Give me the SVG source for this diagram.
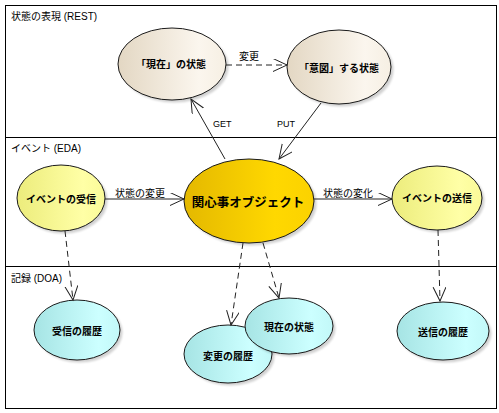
<svg xmlns="http://www.w3.org/2000/svg" width="499" height="413" viewBox="0 0 499 413">
<style>
.frame{fill:#fff;stroke:#000;stroke-width:1}
.sep{stroke:#000;stroke-width:1}
.sec{font-family:'Liberation Sans','Noto Sans CJK JP',sans-serif;font-size:10px;fill:#000}
.lbl{font-family:'Liberation Sans','Noto Sans CJK JP',sans-serif;font-size:10px;fill:#000}
.nl{font-family:'Liberation Sans','Noto Sans CJK JP',sans-serif;font-size:10px;font-weight:bold;fill:#000;text-anchor:middle}
.big{font-size:12.5px}
.node{stroke:#1a1a1a;stroke-width:1}
.sh{fill:#000;opacity:0.18}
.c{fill:none;stroke:#222;stroke-width:1;marker-end:url(#arr)}
.d{stroke-dasharray:6,4}
</style>
<defs>
<linearGradient id="gBeige" x1="0" y1="0" x2="1" y2="0">
<stop offset="0" stop-color="#e3d7c3"/><stop offset="0.75" stop-color="#fbf6ee"/><stop offset="1" stop-color="#f6efe3"/>
</linearGradient>
<linearGradient id="gYel" x1="0" y1="0" x2="1" y2="0">
<stop offset="0" stop-color="#ecec7c"/><stop offset="0.75" stop-color="#ffffa6"/><stop offset="1" stop-color="#fafa98"/>
</linearGradient>
<linearGradient id="gGold" x1="0" y1="0" x2="1" y2="0">
<stop offset="0" stop-color="#e4b800"/><stop offset="0.7" stop-color="#ffd800"/><stop offset="1" stop-color="#fbd200"/>
</linearGradient>
<linearGradient id="gCyan" x1="0" y1="0" x2="1" y2="0">
<stop offset="0" stop-color="#a6e4e4"/><stop offset="0.75" stop-color="#ccffff"/><stop offset="1" stop-color="#c2f8f8"/>
</linearGradient>
<filter id="blur" x="-20%" y="-20%" width="140%" height="140%"><feGaussianBlur stdDeviation="1.2"/></filter>
<marker id="arr" markerUnits="userSpaceOnUse" markerWidth="16" markerHeight="14" refX="14" refY="6.5" orient="auto">
<path d="M0,0 L14,6.5 L0,13" fill="none" stroke="#222" stroke-width="1"/>
</marker>
</defs>

<g id="frame">
<rect class="frame" x="5.5" y="5.5" width="491" height="403"/>
<line class="sep" x1="5.5" y1="137.5" x2="496.5" y2="137.5"/>
<line class="sep" x1="5.5" y1="266.5" x2="496.5" y2="266.5"/>
<text class="sec" x="11" y="20">状態の表現 (REST)</text>
<text class="sec" x="11" y="152">イベント (EDA)</text>
<text class="sec" x="11" y="282">記録 (DOA)</text>
</g>

<g id="node-current">
<ellipse class="sh" cx="174.5" cy="66.5" rx="54" ry="36" filter="url(#blur)"/>
<ellipse class="node" cx="172" cy="64" rx="54" ry="36" fill="url(#gBeige)"/>
<text class="nl" x="171" y="67.5">「現在」の状態</text>
</g>
<g id="node-intended">
<ellipse class="sh" cx="341.5" cy="69.5" rx="52" ry="37" filter="url(#blur)"/>
<ellipse class="node" cx="339" cy="67" rx="52" ry="37" fill="url(#gBeige)"/>
<text class="nl" x="339" y="71.5">「意図」する状態</text>
</g>
<g id="node-recv">
<ellipse class="sh" cx="63.5" cy="200.5" rx="44" ry="33" filter="url(#blur)"/>
<ellipse class="node" cx="61" cy="198" rx="44" ry="33" fill="url(#gYel)"/>
<text class="nl" x="61" y="202.5">イベントの受信</text>
</g>
<g id="node-main">
<ellipse class="sh" cx="251.5" cy="203.5" rx="65" ry="42" filter="url(#blur)"/>
<ellipse class="node" cx="249" cy="201" rx="65" ry="42" fill="url(#gGold)"/>
<text class="nl big" x="248" y="206.5">関心事オブジェクト</text>
</g>
<g id="node-send">
<ellipse class="sh" cx="439.5" cy="200.5" rx="45" ry="32" filter="url(#blur)"/>
<ellipse class="node" cx="437" cy="198" rx="45" ry="32" fill="url(#gYel)"/>
<text class="nl" x="437" y="201.5">イベントの送信</text>
</g>
<g id="node-recvhist">
<ellipse class="sh" cx="79.5" cy="332.5" rx="43" ry="30" filter="url(#blur)"/>
<ellipse class="node" cx="77" cy="330" rx="43" ry="30" fill="url(#gCyan)"/>
<text class="nl" x="77" y="334.5">受信の履歴</text>
</g>
<g id="node-changehist">
<ellipse class="sh" cx="230.5" cy="356.5" rx="44" ry="29" filter="url(#blur)"/>
<ellipse class="node" cx="228" cy="354" rx="44" ry="29" fill="url(#gCyan)"/>
<text class="nl" x="228" y="359.5">変更の履歴</text>
</g>
<g id="node-curstate">
<ellipse class="sh" cx="291.5" cy="328.5" rx="44" ry="28" filter="url(#blur)"/>
<ellipse class="node" cx="289" cy="326" rx="44" ry="28" fill="url(#gCyan)"/>
<text class="nl" x="289" y="330.5">現在の状態</text>
</g>
<g id="node-sendhist">
<ellipse class="sh" cx="445.5" cy="333.5" rx="46" ry="29" filter="url(#blur)"/>
<ellipse class="node" cx="443" cy="331" rx="46" ry="29" fill="url(#gCyan)"/>
<text class="nl" x="443" y="335.5">送信の履歴</text>
</g>

<g id="connectors">
<path class="c d" d="M226,65 L287,65"/>
<path class="c" d="M225,159 L191,99"/>
<path class="c" d="M321,103 L279,159"/>
<path class="c" d="M105,199 L184,199"/>
<path class="c" d="M314,199 L392,199"/>
<path class="c d" d="M65,231 L73,300"/>
<path class="c d" d="M243,243 L231,325"/>
<path class="c d" d="M263,243 L279,298"/>
<path class="c d" d="M438,230 L440,301"/>
<text class="lbl" x="239" y="60">変更</text>
<text class="lbl" x="213" y="127" style="font-size:9px">GET</text>
<text class="lbl" x="277" y="127" style="font-size:9px">PUT</text>
<text class="lbl" x="115" y="197">状態の変更</text>
<text class="lbl" x="323" y="197">状態の変化</text>
</g>
</svg>
